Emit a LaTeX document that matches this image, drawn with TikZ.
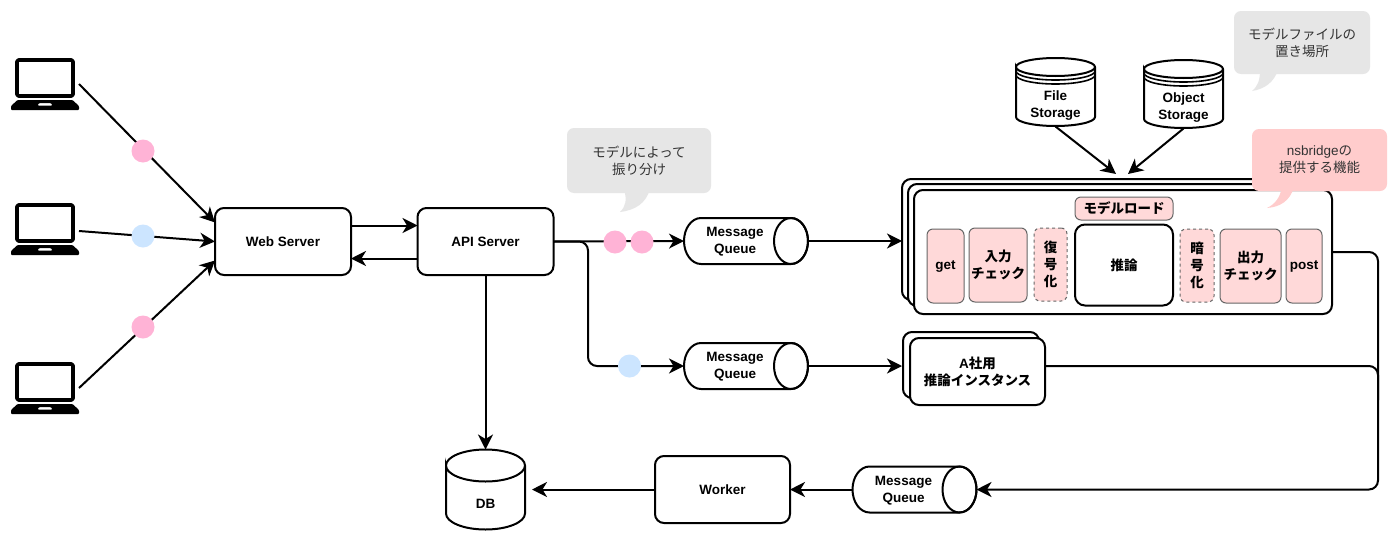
\documentclass[tikz,border=0pt]{standalone}
\usepackage{fontspec}
\setmainfont{Liberation Sans}
\newfontfamily\cjk{Noto Sans CJK JP}
\usetikzlibrary{arrows.meta}
\definecolor{dotpink}{HTML}{FFB3D6}
\definecolor{dotblue}{HTML}{CCE5FF}
\definecolor{boxpink}{HTML}{FFD9D9}
\definecolor{calloutpink}{HTML}{FFCCCC}
\definecolor{calloutgrey}{HTML}{E6E6E6}
\newcommand\J[1]{{\cjk #1}}
\tikzset{
  x=1pt,y=-1pt,
  ln/.style={line width=2pt,draw=black},
  conn/.style={ln,-{Stealth[length=15pt,width=15pt,inset=4.5pt]}},
  plainline/.style={ln,rounded corners=9pt},
  lbl/.style={font=\fontsize{13.5}{17}\selectfont\bfseries,align=center,inner sep=0pt,text=black},
  box/.style={lbl,draw=black,line width=2pt,rounded corners=9pt,fill=white,minimum width=#1,outer sep=0pt},
  box/.default=136,
  ph/.style={inner sep=0pt,outer sep=0pt,minimum width=#1},
  func/.style={lbl,draw=black!60,line width=1pt,fill=boxpink,rounded corners=6pt,outer sep=0pt,minimum width=#1},
  dfunc/.style={func=#1,dashed},
  dot/.style={circle,inner sep=0pt,outer sep=0pt,minimum size=23pt,fill=#1},
  note/.style={font=\fontsize{13.5}{17}\selectfont,align=center,inner sep=0pt,outer sep=0pt,text=black!80,rounded corners=7pt,fill=#1},
}
\newcommand\laptop[3]{%
  \begin{scope}[shift={(#2,#3)}]
    \node[ph=68,minimum height=52pt] (#1) at (0,0) {};
    \draw[line width=3.6pt,line join=round,rounded corners=1.5pt] (-28,-24) rectangle (28,12);
    \fill[rounded corners=1pt,even odd rule] (-27.5,16) -- (27.5,16) -- (34,22) -- (34,26) -- (-34,26) -- (-34,22) -- cycle
      (-7.5,21.5) -- (7.5,21.5) -- (6,19) -- (-6,19) -- cycle;
  \end{scope}}
\newcommand\mq[5]{%
  \begin{scope}[shift={(#2,#3)}]
    \node[ph=124,minimum height=46pt] (#1) at (0,0) {};
    \draw[ln,fill=white] (-45,-23) -- (45,-23) arc[start angle=-90,end angle=90,x radius=17,y radius=23]
      -- (-45,23) arc[start angle=90,end angle=270,x radius=17,y radius=23] -- cycle;
    \draw[ln] (45,0) ellipse[x radius=17,y radius=23];
    \node[lbl] (#1t) at (-11,1) {#4\\#5};
  \end{scope}}
\newcommand\store[5]{%
  \begin{scope}[shift={(#2,#3)}]
    \node[ph=79,minimum height=69pt] (#1) at (0,0) {};
    \draw[ln,fill=white] (-39.5,-25) arc[start angle=180,end angle=360,x radius=39.5,y radius=9]
      arc[start angle=0,end angle=180,x radius=39.5,y radius=9] -- (-39.5,25)
      arc[start angle=180,end angle=0,x radius=39.5,y radius=9] -- (39.5,-25);
    \draw[line width=1.6pt] (-39.5,-21) arc[start angle=180,end angle=0,x radius=39.5,y radius=9];
    \draw[line width=1.6pt] (-39.5,-17) arc[start angle=180,end angle=0,x radius=39.5,y radius=9];
    \node[lbl] (#1t) at (0,13.5) {#4\\#5};
  \end{scope}}
\begin{document}
\begin{tikzpicture}
\useasboundingbox (0,0) rectangle (1400,541);
\fill[white] (0,0) rectangle (1400,541);

% clients
\laptop{lapa}{45}{84}
\laptop{lapb}{45}{229}
\laptop{lapc}{45}{388}

% main boxes
\node[box,minimum height=67pt] (web) at (283,241.5) {Web Server};
\node[box,minimum height=67pt] (api) at (485.5,241.5) {API Server};
\node[box=135,minimum height=67pt] (worker) at (722.5,489.5) {Worker};

% queues
\mq{mqa}{746}{241}{Message}{Queue}
\mq{mqb}{746}{366}{Message}{Queue}
\mq{mqc}{914.5}{489.5}{Message}{Queue}

% DB
\begin{scope}[shift={(485.5,489.5)}]
  \node[ph=79,minimum height=80pt] (db) at (0,0) {};
  \draw[ln,fill=white] (-39.5,-24) arc[start angle=180,end angle=360,x radius=39.5,y radius=16]
    arc[start angle=0,end angle=180,x radius=39.5,y radius=16] -- (-39.5,24)
    arc[start angle=180,end angle=0,x radius=39.5,y radius=16] -- (39.5,-24);
  \node[lbl] (dbt) at (0,14) {DB};
\end{scope}

% storages
\store{fs}{1055.5}{92}{File}{Storage}
\store{os}{1183.5}{94}{Object}{Storage}

% instance stack
\draw[ln,rounded corners=9pt,fill=white] (902,179) rectangle (1325,300);
\draw[ln,rounded corners=9pt,fill=white] (908,184) rectangle (1325,306);
\node[box=418,minimum height=124pt] (inst) at (1123,252) {};
\node[func=98,minimum height=23pt] (load) at (1124,208.5) {\J{モデルロード}};
\node[func=37,minimum height=74pt] (get) at (945.5,266) {\raisebox{-3.5pt}[0pt][0pt]{get}};
\node[func=58,minimum height=74pt] (inchk) at (998,265) {\J{入力}\\\J{チェック}};
\node[dfunc=33,minimum height=73pt] (dec) at (1050.5,264.5) {\J{復}\\\J{号}\\\J{化}};
\node[draw=black,line width=2pt,rounded corners=10pt,fill=white,lbl,minimum width=98pt,minimum height=81pt] (inf) at (1124,265) {\J{推論}};
\node[dfunc=34,minimum height=73pt] (enc) at (1197,265.5) {\J{暗}\\\J{号}\\\J{化}};
\node[func=61,minimum height=74pt] (outchk) at (1250.5,266) {\J{出力}\\\J{チェック}};
\node[func=36,minimum height=74pt] (post) at (1304,266) {\raisebox{-3.5pt}[0pt][0pt]{post}};

% A instance
\draw[ln,rounded corners=9pt,fill=white] (903,332) rectangle (1039,398);
\node[box=135,minimum height=67pt] (ainst) at (977.5,371.5) {A\J{社用}\\\J{推論インスタンス}};

% connectors
\draw[conn] (lapa.east) -- ([yshift=19pt]web.west);
\draw[conn] ([yshift=-2pt]lapb.east) -- (web.west);
\draw[conn] (lapc.east) -- ([yshift=-19pt]web.west);
\draw[conn] ([yshift=16pt]web.east) -- ([yshift=16pt]api.west);
\draw[conn] ([yshift=-17pt]api.west) -- ([yshift=-17pt]web.east);
\draw[conn] (api.east) -- (mqa.west);
\draw[conn,rounded corners=9pt] (api.east) -| (588,366) -- (mqb.west);
\draw[conn] (api.south) -- (db.north);
\draw[conn] (mqa.east) -- (902,241);
\draw[conn] (mqb.east) -- (902,366);
\coordinate (bendtop) at (1378,252);
\draw[conn,rounded corners=9pt] (inst.east) -- (bendtop) |- (mqc.east);
\draw[plainline] ([yshift=5.5pt]ainst.east) -- (1378,366) -- (1378,400);
\draw[conn] (mqc.west) -- (worker.east);
\draw[conn] (worker.west) -- ([xshift=7pt]db.east);
\draw[conn] (fs.south) -- (1116,174);
\draw[conn] (os.south) -- (1128,174);

% dots
\node[dot=dotpink] (d1) at (143,151) {};
\node[dot=dotblue] (d2) at (143,236) {};
\node[dot=dotpink] (d3) at (143,327) {};
\node[dot=dotpink] (d4) at (615,242) {};
\node[dot=dotpink] (d5) at (642,242) {};
\node[dot=dotblue] (d6) at (629.5,366) {};

% callouts
\fill[calloutgrey] (1260,70) .. controls (1260,80) and (1258,86) .. (1252,91) .. controls (1265,89) and (1274,82) .. (1278,70) -- cycle;
\node[note=calloutgrey,minimum width=136pt,minimum height=63pt] (n1) at (1302,42.5) {\J{モデルファイルの}\\\J{置き場所}};
\fill[calloutgrey] (624,189) .. controls (627,200) and (626,206) .. (620,212) .. controls (636,210) and (646,203) .. (650,189) -- cycle;
\node[note=calloutgrey,minimum width=144pt,minimum height=65pt] (n2) at (639,160.5) {\J{モデルによって}\\\J{振り分け}};
\fill[calloutpink] (1282,187) .. controls (1280,198) and (1275,204) .. (1267,208) .. controls (1280,207) and (1290,201) .. (1294,187) -- cycle;
\node[note=calloutpink,minimum width=135pt,minimum height=62pt] (n3) at (1319.5,160) {nsbridge\J{の}\\\J{提供する機能}};
\end{tikzpicture}
\end{document}
